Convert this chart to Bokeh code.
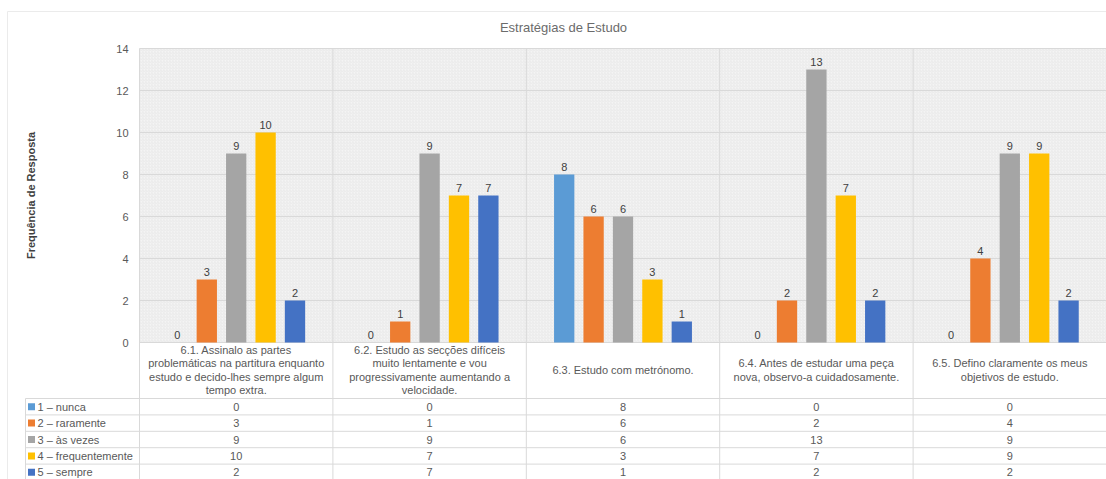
import math
from bokeh.plotting import figure
from bokeh.models import Range1d, ColumnDataSource
from bokeh.core.properties import value
from bokeh.embed import file_html
from bokeh.resources import INLINE

# ---- data -------------------------------------------------------------
categories = [
    "6.1. Assinalo as partes\nproblemáticas na partitura enquanto\nestudo e decido-lhes sempre algum\ntempo extra.",
    "6.2. Estudo as secções difíceis\nmuito lentamente e vou\nprogressivamente aumentando a\nvelocidade.",
    "6.3. Estudo com metrónomo.",
    "6.4. Antes de estudar uma peça\nnova, observo-a cuidadosamente.",
    "6.5. Defino claramente os meus\nobjetivos de estudo.",
]
series_names = ["1 – nunca", "2 – raramente", "3 – às vezes", "4 – frequentemente", "5 – sempre"]
nunca = [0, 0, 8, 0, 0]
raramente = [3, 1, 6, 2, 4]
as_vezes = [9, 9, 6, 13, 9]
frequentemente = [10, 7, 3, 7, 9]
sempre = [2, 7, 1, 2, 2]
y_ticks = [0, 2, 4, 6, 8, 10, 12, 14]
y_max = 14

series = [nunca, raramente, as_vezes, frequentemente, sempre]
colors = ["#5B9BD5", "#ED7D31", "#A5A5A5", "#FFC000", "#4472C4"]

FONT = value("Liberation Sans")
TXT = "#595959"
GRID = "#d9d9d9"

# ---- geometry (pixels) ------------------------------------------------
W, H = 1106, 479
LEFT = 139          # left edge of the plot area
ZERO = 342          # pixel row of the value axis zero
UNIT = 21           # pixels per response
n_cat = len(categories)
cat_px = (W - LEFT) / n_cat
HDR = 56            # header row (category names) height
ROW = 16.4          # table row height


def xd(px):
    return (px - LEFT) / cat_px


def yd(py):
    return (ZERO - py) / UNIT


p = figure(width=W, height=H, x_range=Range1d(xd(0), xd(W)), y_range=Range1d(yd(H), yd(0)),
           output_backend="svg", toolbar_location=None,
           min_border_left=0, min_border_right=0, min_border_top=0, min_border_bottom=0)
p.axis.visible = False
p.grid.visible = False
p.outline_line_color = None
p.background_fill_color = "white"

# faint chart border
p.segment(x0=[xd(7), xd(7)], y0=[yd(11), yd(11)], x1=[xd(W), xd(7)], y1=[yd(11), yd(H)],
          line_color="#ebebeb", line_width=1)

# title
p.text(x=[xd(563)], y=[yd(27)], text=["Estratégias de Estudo"], text_font=FONT,
       text_font_size="13px", text_color="#6b6b6b", text_align="center", text_baseline="middle")

# hatched plot area
p.quad(left=[0], right=[n_cat], bottom=[0], top=[y_max], fill_color="#f4f4f4", line_color=None,
       hatch_pattern="right_diagonal_line", hatch_color="#e4e4e4", hatch_scale=3, hatch_weight=0.7)

# value gridlines and tick labels
p.segment(x0=[0] * len(y_ticks), y0=y_ticks, x1=[n_cat] * len(y_ticks), y1=y_ticks,
          line_color=GRID, line_width=1)
p.text(x=[xd(128)] * len(y_ticks), y=y_ticks, text=[str(v) for v in y_ticks], text_font=FONT,
       text_font_size="11px", text_color=TXT, text_align="right", text_baseline="middle")
p.text(x=[xd(30)], y=[y_max / 2], text=["Frequência de Resposta"], angle=math.pi / 2,
       text_font=FONT, text_font_size="11px", text_font_style="bold", text_color="#404040",
       text_align="center", text_baseline="middle")

# category separators through chart and table
bottom = yd(H)
p.segment(x0=list(range(n_cat + 1)), y0=[y_max] * (n_cat + 1), x1=list(range(n_cat + 1)),
          y1=[bottom] * (n_cat + 1), line_color=GRID, line_width=1)

# bars and value labels
offsets = [-0.304, -0.152, 0.0, 0.152, 0.304]
bar_w = 0.105
for vals, off, col in zip(series, offsets, colors):
    xs = [i + 0.5 + off for i in range(n_cat)]
    src = ColumnDataSource(dict(x=xs, top=vals, lab=[str(v) for v in vals]))
    p.vbar(x="x", top="top", width=bar_w, source=src, fill_color=col, line_color=None)
    p.text(x="x", y="top", text="lab", source=src, text_font=FONT, text_font_size="11px",
           text_color="#404040", text_align="center", text_baseline="bottom", y_offset=-4)

# ---- data table -------------------------------------------------------
x_leg = xd(25)
row_tops = [ZERO + HDR + k * ROW for k in range(len(series))]
p.segment(x0=[x_leg], y0=[yd(row_tops[0])], x1=[x_leg], y1=[bottom], line_color=GRID, line_width=1)
p.segment(x0=[x_leg] * len(row_tops), y0=[yd(v) for v in row_tops], x1=[n_cat] * len(row_tops),
          y1=[yd(v) for v in row_tops], line_color=GRID, line_width=1)

# header: category names
p.text(x=[i + 0.5 for i in range(n_cat)], y=[yd(ZERO + HDR / 2 - 0.5)] * n_cat, text=categories,
       text_font=FONT, text_font_size="11px", text_color=TXT, text_align="center",
       text_baseline="middle", text_line_height=1.12)

# rows: legend key, series name, values
for r, (name, vals, col) in enumerate(zip(series_names, series, colors)):
    yc = yd(row_tops[r] + ROW / 2)
    p.scatter(x=[xd(31)], y=[yc], marker="square", size=7, fill_color=col, line_color=None)
    p.text(x=[xd(37)], y=[yc], text=[name], text_font=FONT, text_font_size="11px",
           text_color=TXT, text_align="left", text_baseline="middle")
    p.text(x=[i + 0.5 for i in range(n_cat)], y=[yc] * n_cat, text=[str(v) for v in vals],
           text_font=FONT, text_font_size="11px", text_color=TXT, text_align="center",
           text_baseline="middle")

open("out.html", "w").write(file_html(p, INLINE))
